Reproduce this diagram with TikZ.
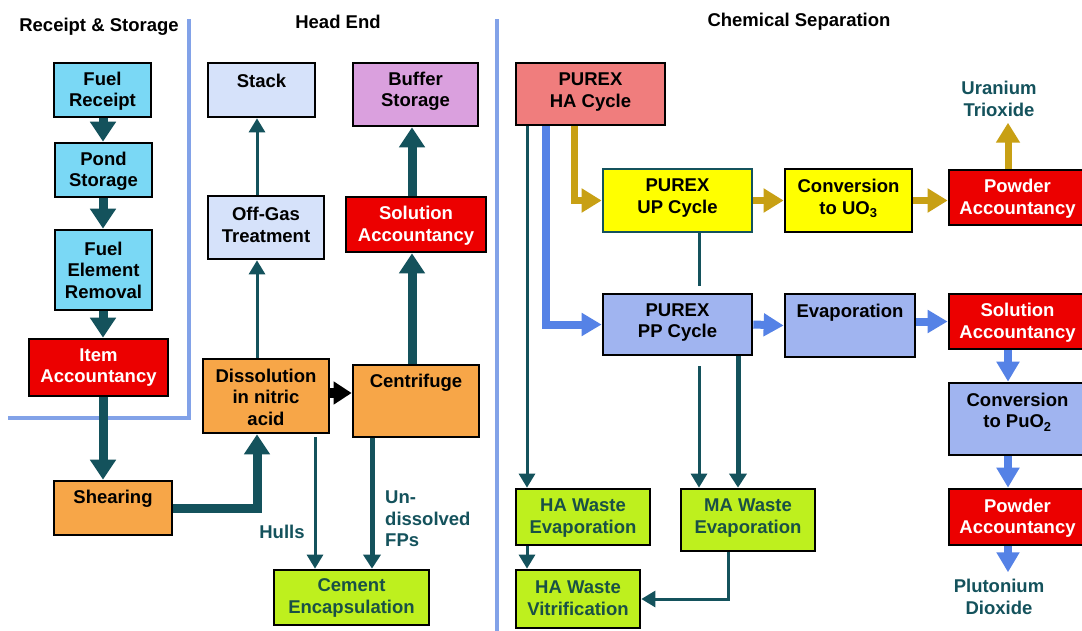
\documentclass[tikz,border=0pt]{standalone}
\usepackage{fontspec}
\setmainfont{Liberation Sans}
\usetikzlibrary{arrows.meta}
\definecolor{cyanbox}{RGB}{122,216,245}
\definecolor{redbox}{RGB}{236,0,0}
\definecolor{orangebox}{RGB}{247,166,72}
\definecolor{palebox}{RGB}{214,226,250}
\definecolor{pinkbox}{RGB}{218,160,222}
\definecolor{limebox}{RGB}{190,240,30}
\definecolor{salmonbox}{RGB}{240,125,125}
\definecolor{yellowbox}{RGB}{255,255,0}
\definecolor{bluebox}{RGB}{160,180,240}
\definecolor{tealc}{RGB}{20,82,92}
\definecolor{bluearr}{RGB}{85,130,230}
\definecolor{goldarr}{RGB}{200,160,20}
\definecolor{sepline}{RGB}{130,162,232}
\definecolor{limetext}{RGB}{25,80,70}
\newcommand{\mkbox}[8]{%
  \pgfmathsetmacro{\mkW}{#4-#2}\pgfmathsetmacro{\mkH}{#5-#3}%
  \pgfmathsetmacro{\mkX}{(#2+#4)/2}\pgfmathsetmacro{\mkY}{(#3+#5)/2}%
  \node[boxst,#6,minimum width=\mkW pt,minimum height=\mkH pt] (#1) at (\mkX,\mkY) {};%
  \node[txt,#6,draw=none,fill=none] (#1-t) at (\mkX,#7) {#8};}
\begin{document}
\begin{tikzpicture}[x=1pt,y=-1pt,
  font=\bfseries\fontsize{18.5}{21.5}\selectfont,
  boxst/.style={draw=black, line width=2.7pt, inner sep=0pt},
  txt/.style={align=center, inner sep=0pt},
  cyanst/.style={fill=cyanbox},
  redst/.style={fill=redbox, text=white},
  orst/.style={fill=orangebox},
  palest/.style={fill=palebox},
  pinkst/.style={fill=pinkbox},
  limest/.style={fill=limebox, text=limetext},
  salst/.style={fill=salmonbox},
  yelst/.style={fill=yellowbox},
  bluest/.style={fill=bluebox},
  sep/.style={draw=sepline, line width=4.5pt},
  thickT/.style={draw=tealc, line width=9pt, -{Triangle[length=20pt,width=25pt]}},
  medT/.style={draw=tealc, line width=5pt, -{Triangle[length=14pt,width=17pt]}},
  thinT/.style={draw=tealc, line width=3pt, -{Triangle[length=14pt,width=16pt]}},
  plainT/.style={draw=tealc, line width=3pt},
  blackA/.style={draw=black, line width=10pt, -{Triangle[length=18pt,width=22pt]}},
  blueA/.style={draw=bluearr, line width=8pt, -{Triangle[length=20pt,width=22pt]}},
  goldA/.style={draw=goldarr, line width=7pt, -{Triangle[length=20pt,width=23pt]}},
  lbl/.style={text=tealc, inner sep=0pt, align=center},
  title/.style={text=black, inner sep=0pt}]
\clip (0,0) rectangle (1082,630);
\fill[white] (0,0) rectangle (1082,630);
% separators
\draw[sep] (189,19) -- (189,418) -- (8,418);
\draw[sep] (497,19) -- (497,632);
% titles
\node[title] (t1) at (99,27) {Receipt \& Storage};
\node[title] (t2) at (338,22) {Head End};
\node[title] (t3) at (799,22) {Chemical Separation};
% coordinates for connector columns
\coordinate (xL) at (103,0);
\coordinate (xOG) at (257,0);
\coordinate (xHu) at (315,0);
\coordinate (xUn) at (372,0);
\coordinate (xSA) at (412,0);
\coordinate (xHA) at (527,0);
\coordinate (xBl) at (546,0);
\coordinate (xGo) at (574,0);
\coordinate (xUP) at (699,0);
\coordinate (xMA) at (738,0);
\coordinate (xMV) at (728,0);
\coordinate (xR) at (1008,0);
% boxes
\mkbox{fr}{54}{63}{151}{117}{cyanst}{91}{Fuel\\Receipt}
\mkbox{ps}{55}{143}{152}{197}{cyanst}{171.5}{Pond\\Storage}
\mkbox{fe}{55}{230}{152}{310}{cyanst}{270}{Fuel\\Element\\Removal}
\mkbox{ia}{29}{339}{168}{396}{redst}{367.5}{Item\\Accountancy}
\mkbox{sh}{54}{481}{172}{535}{orst}{499}{Shearing}
\mkbox{dis}{203}{359}{329}{433}{orst}{397}{Dissolution\\in nitric\\acid}
\mkbox{cen}{353}{365}{479}{437}{orst}{383}{Centrifuge}
\mkbox{cem}{274}{570}{429}{625}{limest}{598}{Cement\\Encapsulation}
\mkbox{st}{208}{63}{315}{117}{palest}{81}{Stack}
\mkbox{og}{208}{196}{324}{259}{palest}{225}{Off-Gas\\Treatment}
\mkbox{buf}{353}{63}{478}{126}{pinkst}{91.5}{Buffer\\Storage}
\mkbox{sah}{346}{197}{486}{252}{redst}{225.5}{Solution\\Accountancy}
\mkbox{ha}{516}{63}{665}{125}{salst}{92}{PUREX\\HA Cycle}
\mkbox{up}{603}{169}{752}{232}{yelst,draw=tealc}{198}{PUREX\\UP Cycle}
\mkbox{cu}{785}{169}{912}{232}{yelst}{198.5}{Conversion\\to UO\textsubscript{3}}
\mkbox{pau}{949}{170}{1086}{225}{redst}{198.5}{Powder\\Accountancy}
\mkbox{pp}{603}{294}{752}{355}{bluest}{322.5}{PUREX\\PP Cycle}
\mkbox{ev}{785}{294}{915}{357}{bluest}{313}{Evaporation}
\mkbox{sac}{949}{294}{1086}{349}{redst}{322.5}{Solution\\Accountancy}
\mkbox{cpu}{949}{383}{1086}{455}{bluest}{412}{Conversion\\to PuO\textsubscript{2}}
\mkbox{pap}{949}{489}{1086}{545}{redst}{518}{Powder\\Accountancy}
\mkbox{hwe}{516}{489}{650}{545}{limest}{518}{HA Waste\\Evaporation}
\mkbox{mwe}{681}{489}{815}{551}{limest}{518}{MA Waste\\Evaporation}
\mkbox{hwv}{516}{570}{640}{628}{limest}{598}{HA Waste\\Vitrification}
% free labels
\node[lbl] (lhull) at (282,532) {Hulls};
\node[lbl, align=left, anchor=west] (lund) at (385,519) {Un-\\dissolved\\FPs};
\node[lbl] (luo) at (999,99) {Uranium\\Trioxide};
\node[lbl] (lpu) at (999,597) {Plutonium\\Dioxide};
% receipt & storage chain
\draw[thickT] (fr.south -| xL) -- (ps.north -| xL);
\draw[thickT] (ps.south -| xL) -- (fe.north -| xL);
\draw[thickT] (fe.south -| xL) -- (ia.north -| xL);
\draw[thickT] (ia.south -| xL) -- (sh.north -| xL);
% head end
\draw[thickT] (sh.east) -| (dis.south -| xOG);
\draw[thinT] (dis.north -| xOG) -- (og.south -| xOG);
\draw[thinT] (og.north -| xOG) -- (st.south -| xOG);
\draw[blackA] (dis.east |- 0,393) -- (cen.west |- 0,393);
\draw[thickT] (cen.north -| xSA) -- (sah.south -| xSA);
\draw[thickT] (sah.north -| xSA) -- (buf.south -| xSA);
\draw[thinT, shorten <=3pt] (dis.south -| xHu) -- (cem.north -| xHu);
\draw[medT] (cen.south -| xUn) -- (cem.north -| xUn);
% chemical separation
\draw[thinT] (ha.south -| xHA) -- (hwe.north -| xHA);
\draw[thinT] (hwe.south -| xHA) -- (hwv.north -| xHA);
\draw[blueA] (ha.south -| xBl) |- (pp.west);
\draw[goldA] (ha.south -| xGo) |- (up.west);
\draw[goldA] (up.east) -- (cu.west);
\draw[goldA] (cu.east) -- (pau.west |- cu.east);
\draw[goldA, shorten >=6pt] (pau.north -| xR) -- (luo.south -| xR);
\draw[plainT, shorten >=7pt] (up.south -| xUP) -- (pp.north -| xUP);
\draw[blueA] (pp.east) -- (ev.west);
\draw[blueA] (ev.east |- sac.west) -- (sac.west);
\draw[blueA] (sac.south -| xR) -- (cpu.north -| xR);
\draw[blueA] (cpu.south -| xR) -- (pap.north -| xR);
\draw[blueA, shorten >=7pt] (pap.south -| xR) -- (lpu.north -| xR);
\draw[thinT, shorten <=10pt] (pp.south -| xUP) -- (mwe.north -| xUP);
\draw[medT] (pp.south -| xMA) -- (mwe.north -| xMA);
\draw[thinT] (mwe.south -| xMV) |- (hwv.east);
\end{tikzpicture}
\end{document}
